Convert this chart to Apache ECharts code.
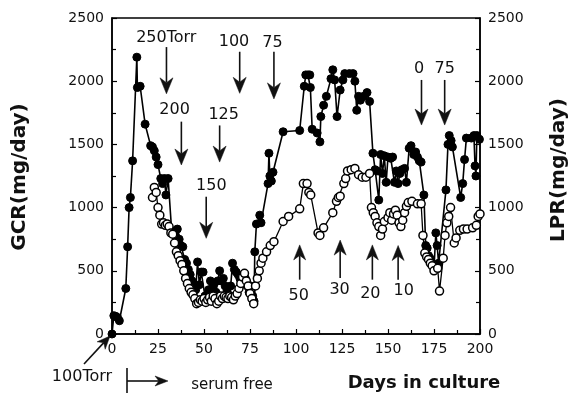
<!DOCTYPE html>
<html><head><meta charset="utf-8">
<script src="https://cdn.jsdelivr.net/npm/echarts@6/dist/echarts.min.js"></script>
<style>html,body{margin:0;padding:0;background:#fff}#c{width:573px;height:394px}</style>
</head><body><div id="c"></div>
<script>
// ---- data ----
const xTickLabels = ['0','25','50','75','100','125','150','175','200'];
const yTickLabels = ['0','500','1000','1500','2000','2500'];

const gcrDays = [0,1,2,3,4,7.5,8.5,9.3,10,11.2,13.5,13.8,15.3,18,21,22,23,24,25,26.5,27.5,28.5,29.3,30.5,
  32.5,33.5,34.5,35.5,36.5,37.5,38.5,39.5,40.5,41.5,42.5,43.5,44.5,45.5,46.5,47.5,48.5,49.5,50.5,51.5,52.5,
  53.5,54.5,55.5,56.5,57.5,58.5,59.5,60.5,61.5,62.5,63.5,64.5,65.5,66.5,67.5,68.5,69.5,70.5,71.5,72.5,73.5,
  74.5,75.5,76.5,77.2,77.6,78.5,80.3,81,84.8,85.3,85.8,86.6,87.5,93,102,104.5,105.3,106.5,107.5,107.8,108.8,
  111.5,113,113.5,115,116.5,119,120,121,122.3,124,125.5,126.5,129,131,132,133,134,135,136.8,138.6,140,141.8,
  143,144,145,146,147,148,149,150,151.5,152.5,153.5,154.5,155.5,156.5,157.5,159,160,161.5,162.5,164,165,166,
  167,168,169.5,170.5,171.3,172,172.8,173.5,174.2,175,176,176.7,177.5,181.5,182.6,183.3,184.3,185,189.5,
  190.6,191.6,192.6,195.3,196.7,197.3,197.8,198.3,199.7];
const gcrValues = [0,145,140,130,105,360,690,1000,1080,1370,2190,1950,1960,1660,1490,1480,1450,1400,1340,1230,1190,1230,1100,1230,
  800,810,780,830,750,700,690,590,560,510,470,420,380,350,570,390,490,490,300,290,350,
  420,360,400,330,420,500,420,440,380,340,300,380,560,510,490,470,440,460,400,440,380,
  330,380,300,260,650,870,940,880,1190,1430,1250,1210,1280,1600,1610,1960,2050,2050,2050,1950,1620,
  1590,1520,1720,1810,1880,2020,2090,2010,1720,1930,2010,2060,2060,2060,2000,1770,1880,1850,1880,1910,1840,1430,
  1300,1290,1060,1420,1270,1410,1200,1400,1390,1400,1200,1290,1190,1270,1300,1310,1200,1470,1490,1420,1440,1400,
  1370,1360,1100,700,680,620,600,560,540,520,800,700,560,1140,1500,1570,1530,1480,1080,
  1190,1380,1550,1550,1570,1330,1250,1570,1540];

const lprDays = [22,23,24,25,26,27,28,29,30,31,32,33,34,35,36,37,38,39,40,41,42,43,44,45,46,47,48,49,50,51,52,53,
  54,55,56,57,58,59,60,61,62,63,64,65,66,67,68,69,70,71,72,73,74,75,76,77,78,79,80,81,82,84,86,88,93,96,102,104,
  106,107,108,112,113,115,120,122,123,124,126,127,128,130,132,134,136,138,140,141,142,143,144,145,146,147,148,150,
  151,152,153,154,155,156,157,158,159,160,161,163,166,168,169,170,171,172,173,174,175,177,178,180,181,182,183,184,
  186,187,189,191,193,196,198,199,200];
const lprValues = [1080,1160,1120,1000,940,870,880,860,870,850,800,790,720,650,620,580,550,500,440,400,360,330,310,280,240,250,270,260,280,250,270,290,
  260,300,280,240,260,300,280,300,290,280,300,290,270,300,320,360,400,450,480,420,380,320,280,240,380,440,500,560,600,650,700,730,890,930,990,1190,
  1190,1120,1100,800,780,840,960,1050,1080,1090,1190,1230,1290,1300,1310,1260,1240,1240,1270,1000,960,930,880,850,780,830,890,920,
  960,900,950,980,940,880,850,900,960,1010,1040,1050,1030,1030,780,640,610,590,560,540,500,520,340,600,780,880,930,1000,
  720,760,820,830,830,840,860,930,950];

// ---- annotation layout (not data) ----
const downArrows = [
  {t:'250Torr', ld:29.5, lv:2345, d:29.6, top:2270, tip:1900},
  {t:'200', ld:34, lv:1772, d:37.7, top:1680, tip:1337},
  {t:'125', ld:60.7, lv:1732, d:58.5, top:1650, tip:1360},
  {t:'150', ld:54, lv:1170, d:51.2, top:1086, tip:757},
  {t:'100', ld:66.3, lv:2312, d:69.4, top:2233, tip:1904},
  {t:'75', ld:87.2, lv:2305, d:88, top:2233, tip:1860},
  {t:'0', ld:166.9, lv:2100, d:168.2, top:2010, tip:1653},
  {t:'75', ld:180.8, lv:2100, d:180.8, top:2010, tip:1653}
];
const upArrows = [
  {t:'50', ld:101.5, lv:305, d:102, bot:430, tip:705},
  {t:'30', ld:123.7, lv:348, d:124, bot:443, tip:743},
  {t:'20', ld:140.4, lv:320, d:141.5, bot:430, tip:705},
  {t:'10', ld:158.5, lv:345, d:155.5, bot:430, tip:700}
];

const FONT = '"DejaVu Sans", sans-serif';
const chart = echarts.init(document.getElementById('c'), null, {renderer:'canvas'});
const axisCommon = {
  axisLine:{show:true, onZero:false, lineStyle:{color:'#000', width:1.5}},
  axisTick:{show:true, inside:true, length:5, lineStyle:{color:'#000', width:1.2}},
  minorTick:{show:true, splitNumber:2, length:4, lineStyle:{color:'#000', width:1.2}},
  splitLine:{show:false}
};
const option = {
  animation:false,
  backgroundColor:'#fff',
  grid:{left:112, right:93, top:18, bottom:60, show:true, borderColor:'#000', borderWidth:1.5},
  xAxis:Object.assign({type:'value', min:0, max:200, interval:25,
    axisLabel:{color:'#111', fontFamily:FONT, fontSize:14, margin:8,
      formatter:(v)=>xTickLabels[Math.round(v/25)]}}, axisCommon),
  yAxis:[
    Object.assign({type:'value', min:0, max:2500, interval:500, position:'left',
      axisLabel:{color:'#111', fontFamily:FONT, fontSize:14, margin:8,
        formatter:(v)=>yTickLabels[Math.round(v/500)]}}, axisCommon),
    Object.assign({type:'value', min:0, max:2500, interval:500, position:'right',
      axisLabel:{color:'#111', fontFamily:FONT, fontSize:14, margin:8,
        formatter:(v)=>yTickLabels[Math.round(v/500)]}}, axisCommon)
  ],
  series:[
    {type:'line', name:'GCR', yAxisIndex:0, data:gcrDays.map((d,i)=>[d,gcrValues[i]]),
      symbol:'circle', symbolSize:8, clip:false,
      lineStyle:{color:'#000', width:1.6}, itemStyle:{color:'#000', borderColor:'#000', borderWidth:1}},
    {type:'line', name:'LPR', yAxisIndex:1, data:lprDays.map((d,i)=>[d,lprValues[i]]),
      symbol:'circle', symbolSize:8, clip:false,
      lineStyle:{color:'#000', width:1.3}, itemStyle:{color:'#fff', borderColor:'#000', borderWidth:1.5}}
  ]
};
chart.setOption(option);

function P(d,v){ return chart.convertToPixel({xAxisIndex:0, yAxisIndex:0}, [d,v]); }
function txt(t, x, y, size, opts){
  return Object.assign({type:'text', x:x, y:y, z:50,
    style:{text:t, fill:'#111', font:(opts&&opts.bold?'bold ':'')+size+'px '+FONT,
      textAlign:'center', textVerticalAlign:'middle'}}, opts&&opts.el||{});
}
function arrow(x1,y1,x2,y2,hl,hw){
  const dx=x2-x1, dy=y2-y1, L=Math.hypot(dx,dy), ux=dx/L, uy=dy/L, px=-uy, py=ux;
  const bx=x2-ux*hl, by=y2-uy*hl, mx=x2-ux*hl*0.7, my=y2-uy*hl*0.7;
  return [
    {type:'line', z:50, shape:{x1:x1,y1:y1,x2:mx,y2:my}, style:{stroke:'#111', lineWidth:1.6}},
    {type:'polygon', z:50, shape:{points:[[x2,y2],[bx+px*hw/2,by+py*hw/2],[mx,my],[bx-px*hw/2,by-py*hw/2]]},
      style:{fill:'#111', stroke:'#111', lineWidth:0.5}}
  ];
}
const g = [];
downArrows.forEach(a=>{
  const lp=P(a.ld,a.lv), t=P(a.d,a.top), b=P(a.d,a.tip);
  g.push(txt(a.t, lp[0], lp[1], 16));
  g.push(...arrow(t[0],t[1],b[0],b[1],16,13));
});
upArrows.forEach(a=>{
  const lp=P(a.ld,a.lv), t=P(a.d,a.tip), b=P(a.d,a.bot);
  g.push(txt(a.t, lp[0], lp[1], 16));
  g.push(...arrow(b[0],b[1],t[0],t[1],15,12));
});
// outside-plot annotations
g.push(txt('GCR(mg/day)', 20, 177, 20, {bold:true, el:{rotation:Math.PI/2}}));
g.push(txt('LPR(mg/day)', 559, 170, 20, {bold:true, el:{rotation:Math.PI/2}}));
g.push(txt('100Torr', 82, 377, 16));
g.push(...arrow(84,364,110,336,13,11));
g.push({type:'line', z:50, shape:{x1:127,y1:368,x2:127,y2:393}, style:{stroke:'#111', lineWidth:1.6}});
g.push(...arrow(127,381,168,381,13,10));
g.push(txt('serum free', 232, 385, 15));
g.push(txt('Days in culture', 424, 383, 18, {bold:true}));
chart.setOption({graphic:g});
</script></body></html>
